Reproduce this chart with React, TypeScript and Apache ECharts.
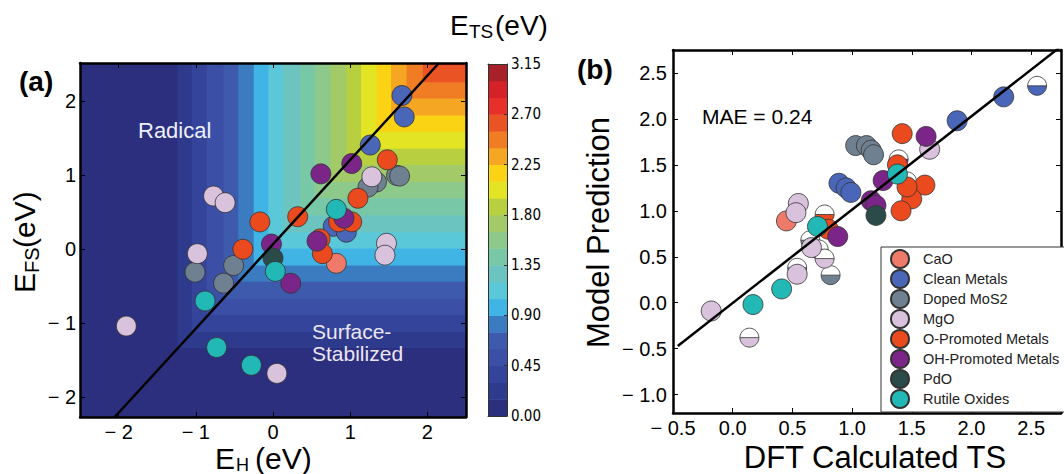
import React, { useEffect, useRef } from "react";
import * as echarts from "echarts";

// ---------- categories ----------
const categories = [
  "CaO",
  "Clean Metals",
  "Doped MoS2",
  "MgO",
  "O-Promoted Metals",
  "OH-Promoted Metals",
  "PdO",
  "Rutile Oxides",
];
const categoryColors = [
  "#f07a6a",
  "#4a66b8",
  "#6f8090",
  "#d9c2dc",
  "#ea4a1e",
  "#7b2588",
  "#2b4a4a",
  "#22b8b6",
];

// ---------- panel (a): E_H vs E_FS ----------
const aCaO = [[0.82, -0.19]];
const aCleanMetals = [[1.67, 2.08], [1.70, 1.79], [1.26, 1.41], [0.78, 0.31], [0.95, 0.23]];
const aDopedMoS2 = [[1.60, 1.00], [1.64, 0.99], [1.34, 0.91], [1.23, 0.84], [-1.01, -0.31], [-0.51, -0.22], [-0.64, -0.46]];
const aMgO = [[-0.77, 0.72], [-0.62, 0.63], [-0.98, -0.06], [-1.90, -1.04], [0.05, -1.68], [1.28, 0.98], [1.47, 0.08], [1.45, -0.08]];
const aOPromoted = [[-0.17, 0.37], [0.32, 0.44], [-0.39, 0.0], [1.48, 1.21], [1.10, 0.69], [0.85, 0.37], [1.02, 0.37], [0.61, 0.14], [0.64, -0.06]];
const aOHPromoted = [[0.62, 1.02], [1.02, 1.16], [0.92, 0.42], [-0.02, 0.07], [0.57, 0.11], [0.23, -0.46]];
const aPdO = [[0.0, -0.12]];
const aRutile = [[0.82, 0.54], [0.03, -0.30], [-0.88, -0.70], [-0.73, -1.33], [-0.28, -1.57]];
const aPoints = [aCaO, aCleanMetals, aDopedMoS2, aMgO, aOPromoted, aOHPromoted, aPdO, aRutile];
const aBoundaryLine = [[-2.05, -2.27], [2.15, 2.52]];

// E_TS contour levels (lower bound of each band) and where each band starts
const tsLevels = [0.0, 0.15, 0.3, 0.45, 0.6, 0.75, 0.9, 1.05, 1.2, 1.35, 1.5, 1.65, 1.8, 1.95, 2.1, 2.25, 2.4, 2.55, 2.7, 2.85, 3.0];
const tsTop = 3.15;
const tsTicks = [0.0, 0.45, 0.9, 1.35, 1.8, 2.25, 2.7, 3.15];
const tsColors = [
  "#2b2f7e", "#2e3a8c", "#33449a", "#3a4fa5", "#3d5aad", "#3b7cc0", "#41b4e6",
  "#5ac8d8", "#6bc4c0", "#78c8a8", "#8ec98c", "#a2ca68", "#b8d040", "#e2e424",
  "#fad414", "#f5a623", "#f07c24", "#ea5424", "#e8302a", "#d42228", "#a82028",
];
// E_H where band k (k>=1) begins, and E_FS where band k begins
const ehBounds = [-1.24, -1.05, -0.86, -0.64, -0.45, -0.25, -0.06, 0.13, 0.35, 0.54, 0.74, 0.95, 1.14, 1.34, 1.53, 1.73, 1.94, 2.13, 2.33];
const efsBounds = [-1.34, -1.12, -0.89, -0.67, -0.44, -0.22, 0.01, 0.23, 0.46, 0.69, 0.91, 1.14, 1.36, 1.59, 1.81, 2.04, 2.26, 2.49, 2.71];

// ---------- panel (b): DFT vs model ----------
const bCaO = [[0.45, 0.89]];
const bCleanMetals = [[2.27, 2.24], [1.88, 1.98], [0.89, 1.30], [0.95, 1.25], [0.99, 1.20]];
const bDopedMoS2 = [[1.03, 1.71], [1.12, 1.71], [1.16, 1.66], [1.18, 1.61]];
const bMgO = [[0.55, 1.08], [0.53, 0.98], [1.65, 1.67], [-0.18, -0.09], [0.66, 0.60], [0.54, 0.31]];
const bOPromoted = [[1.42, 1.84], [1.61, 1.28], [1.50, 1.13], [1.41, 1.00], [1.46, 1.26], [0.80, 0.80], [1.38, 1.50]];
const bOHPromoted = [[1.62, 1.81], [1.26, 1.33], [1.16, 1.11], [1.20, 1.06], [0.88, 0.72]];
const bPdO = [[1.20, 0.95]];
const bRutile = [[1.38, 1.40], [0.71, 0.83], [0.41, 0.15], [0.17, -0.02]];
const bPoints = [bCaO, bCleanMetals, bDopedMoS2, bMgO, bOPromoted, bOHPromoted, bPdO, bRutile];
// half-filled markers
const bHalfCaO: number[][] = [];
const bHalfCleanMetals = [[2.55, 2.36]];
const bHalfDopedMoS2 = [[0.65, 0.68], [0.72, 0.58], [0.82, 0.30]];
const bHalfMgO = [[0.77, 0.48], [0.14, -0.38]];
const bHalfOPromoted = [[0.77, 0.96], [1.46, 1.32]];
const bHalfOHPromoted = [[1.39, 1.56]];
const bHalfPdO: number[][] = [];
const bHalfRutile = [[0.54, 0.38]];
const bHalf = [bHalfCaO, bHalfCleanMetals, bHalfDopedMoS2, bHalfMgO, bHalfOPromoted, bHalfOHPromoted, bHalfPdO, bHalfRutile];
const bParityLine = [[-0.46, -0.47], [2.75, 2.79]];

const FONT = "'Liberation Sans', Arial, Helvetica, sans-serif";
const NARROW = "'Liberation Sans Narrow', 'DejaVu Sans Condensed', 'Liberation Sans', sans-serif";

const A_X = [-2.5, 2.5];
const A_Y = [-2.27, 2.52];
const B_X = [-0.5, 2.75];
const B_Y = [-1.2, 2.75];

const fmtA = (v: number) => {
  const r = Math.round(v);
  if (Math.abs(v - r) > 1e-6) return "";
  return r < 0 ? "\u2212 " + Math.abs(r) : String(r);
};
const fmtB = (v: number) => {
  const h = v * 2;
  if (Math.abs(h - Math.round(h)) > 1e-6) return "";
  return (v < -1e-9 ? "\u2212 " : "") + Math.abs(v).toFixed(1);
};

const frameLine = { onZero: false, lineStyle: { color: "#000", width: 2.5 } };
const inTick = { inside: true, length: 5, lineStyle: { color: "#000", width: 1 } };

function buildOption(): any {
  const xAxis: any[] = [
    { gridIndex: 0, type: "value", position: "bottom", min: A_X[0], max: A_X[1], splitNumber: 5, axisLine: frameLine, axisTick: inTick, splitLine: { show: false }, axisLabel: { formatter: fmtA, fontSize: 20, color: "#000", margin: 5, fontFamily: FONT }, z: 10 },
    { gridIndex: 0, type: "value", position: "top", min: A_X[0], max: A_X[1], splitNumber: 5, axisLine: frameLine, axisTick: inTick, splitLine: { show: false }, axisLabel: { show: false }, z: 10 },
    { gridIndex: 1, type: "value", position: "bottom", min: B_X[0], max: B_X[1], interval: 0.5, axisLine: frameLine, axisTick: inTick, splitLine: { show: false }, axisLabel: { formatter: fmtB, fontSize: 20, color: "#000", margin: 5, fontFamily: FONT }, z: 10 },
    { gridIndex: 1, type: "value", position: "top", min: B_X[0], max: B_X[1], interval: 0.5, axisLine: frameLine, axisTick: inTick, splitLine: { show: false }, axisLabel: { show: false }, z: 10 },
    { gridIndex: 2, type: "value", position: "bottom", min: 0, max: 1, axisLine: { onZero: false, lineStyle: { color: "#333", width: 1 } }, axisTick: { show: false }, axisLabel: { show: false }, splitLine: { show: false }, z: 10 },
    { gridIndex: 2, type: "value", position: "top", min: 0, max: 1, axisLine: { onZero: false, lineStyle: { color: "#333", width: 1 } }, axisTick: { show: false }, axisLabel: { show: false }, splitLine: { show: false }, z: 10 },
  ];
  const yAxis: any[] = [
    { gridIndex: 0, type: "value", position: "left", min: A_Y[0], max: A_Y[1], splitNumber: 5, axisLine: frameLine, axisTick: inTick, splitLine: { show: false }, axisLabel: { formatter: fmtA, fontSize: 20, color: "#000", margin: 4, fontFamily: FONT }, z: 10 },
    { gridIndex: 0, type: "value", position: "right", min: A_Y[0], max: A_Y[1], splitNumber: 5, axisLine: frameLine, axisTick: inTick, splitLine: { show: false }, axisLabel: { show: false }, z: 10 },
    { gridIndex: 1, type: "value", position: "left", min: B_Y[0], max: B_Y[1], splitNumber: 8, axisLine: frameLine, axisTick: inTick, splitLine: { show: false }, axisLabel: { formatter: fmtB, fontSize: 20, color: "#000", margin: 6, fontFamily: FONT }, z: 10 },
    { gridIndex: 1, type: "value", position: "right", min: B_Y[0], max: B_Y[1], splitNumber: 8, axisLine: frameLine, axisTick: inTick, splitLine: { show: false }, axisLabel: { show: false }, z: 10 },
    { gridIndex: 2, type: "value", position: "right", min: 0, max: tsTop, interval: 0.45, axisLine: { onZero: false, lineStyle: { color: "#333", width: 1 } }, axisTick: { inside: true, length: 3, lineStyle: { color: "#333" } }, splitLine: { show: false }, axisLabel: { formatter: (v: number) => (tsTicks.some((t) => Math.abs(t - v) < 1e-6) ? v.toFixed(2) : ""), fontSize: 15, color: "#000", margin: 4, fontFamily: NARROW }, z: 10 },
    { gridIndex: 2, type: "value", position: "left", min: 0, max: tsTop, interval: 0.45, axisLine: { onZero: false, lineStyle: { color: "#333", width: 1 } }, axisTick: { show: false }, splitLine: { show: false }, axisLabel: { show: false }, z: 10 },
  ];

  const heatCells = [[A_X[0], A_Y[0], 0], ...ehBounds.map((eh, i) => [eh, efsBounds[i], i + 1])];
  const series: any[] = [];

  series.push({
    type: "custom",
    name: "heat",
    xAxisIndex: 0,
    yAxisIndex: 0,
    silent: true,
    clip: true,
    z: 1,
    encode: { x: 0, y: 1 },
    data: heatCells,
    renderItem: (params: any, api: any) => {
      const p0 = api.coord([api.value(0), api.value(1)]);
      const p1 = api.coord([A_X[1], A_Y[1]]);
      const k = api.value(2);
      if (p1[0] - p0[0] <= 0 || p0[1] - p1[1] <= 0) return null;
      return {
        type: "rect",
        shape: { x: p0[0], y: p1[1], width: p1[0] - p0[0], height: p0[1] - p1[1] },
        style: { fill: tsColors[k], stroke: null },
      };
    },
  });

  series.push({
    type: "custom",
    name: "colorbar",
    xAxisIndex: 4,
    yAxisIndex: 4,
    silent: true,
    z: 1,
    encode: { x: 0, y: 1 },
    data: tsLevels.map((lv, k) => [0, lv, k]),
    renderItem: (params: any, api: any) => {
      const k = api.value(2);
      const lv = api.value(1);
      const hi = k + 1 < tsLevels.length ? tsLevels[k + 1] : tsTop;
      const p0 = api.coord([0, lv]);
      const p1 = api.coord([1, hi]);
      return {
        type: "rect",
        shape: { x: p0[0], y: p1[1], width: p1[0] - p0[0], height: p0[1] - p1[1] + 0.5 },
        style: { fill: tsColors[k] },
      };
    },
  });

  const markerStyle = (c: string) => ({ color: c, borderColor: "#333", borderWidth: 0.8, opacity: 1 });

  categories.forEach((name, i) => {
    series.push({
      type: "scatter",
      name,
      xAxisIndex: 0,
      yAxisIndex: 0,
      data: aPoints[i],
      symbolSize: 20,
      itemStyle: markerStyle(categoryColors[i]),
      z: 3,
    });
  });

  categories.forEach((name, i) => {
    series.push({
      type: "scatter",
      name,
      xAxisIndex: 2,
      yAxisIndex: 2,
      data: bPoints[i],
      symbolSize: 20,
      itemStyle: markerStyle(categoryColors[i]),
      z: 3,
    });
  });

  categories.forEach((name, i) => {
    if (!bHalf[i].length) return;
    const col = categoryColors[i];
    series.push({
      type: "custom",
      name: name + " (half)",
      xAxisIndex: 2,
      yAxisIndex: 2,
      z: 3,
      encode: { x: 0, y: 1 },
      data: bHalf[i],
      renderItem: (params: any, api: any) => {
        const p = api.coord([api.value(0), api.value(1)]);
        const r = 9.5;
        return {
          type: "group",
          children: [
            { type: "circle", shape: { cx: p[0], cy: p[1], r }, style: { fill: "#fff" } },
            { type: "sector", shape: { cx: p[0], cy: p[1], r0: 0, r, startAngle: 0, endAngle: Math.PI, clockwise: true }, style: { fill: col } },
            { type: "line", shape: { x1: p[0] - r, y1: p[1], x2: p[0] + r, y2: p[1] }, style: { stroke: "#333", lineWidth: 0.8 } },
            { type: "circle", shape: { cx: p[0], cy: p[1], r }, style: { fill: "none", stroke: "#333", lineWidth: 0.8 } },
          ],
        };
      },
    });
  });

  series.push({
    type: "line",
    name: "boundary",
    xAxisIndex: 0,
    yAxisIndex: 0,
    data: aBoundaryLine,
    symbol: "none",
    silent: true,
    lineStyle: { color: "#000", width: 2.5 },
    z: 5,
  });
  series.push({
    type: "line",
    name: "parity",
    xAxisIndex: 2,
    yAxisIndex: 2,
    data: bParityLine,
    symbol: "none",
    silent: true,
    lineStyle: { color: "#000", width: 2.5 },
    z: 5,
  });

  const txt = (text: string, x: number, y: number, size: number, extra: any = {}) => ({
    type: "text",
    x,
    y,
    z: 100,
    silent: true,
    style: {
      text,
      fill: extra.fill || "#000",
      fontSize: size,
      fontFamily: FONT,
      fontWeight: extra.bold ? "bold" : "normal",
      align: extra.align || "left",
      verticalAlign: "middle",
    },
  });

  const graphic: any[] = [
    txt("(a)", 19, 81.5, 28, { bold: true }),
    txt("(b)", 577, 69, 28, { bold: true }),
    txt("Radical", 138, 130, 22, { fill: "#eef0fa" }),
    txt("Surface-", 312, 331.5, 21, { fill: "#ece6f4" }),
    txt("Stabilized", 312, 353.5, 21, { fill: "#ece6f4" }),
    txt("MAE = 0.24", 702, 116, 21),
    txt("DFT Calculated TS", 875, 457.5, 31, { align: "center" }),
    // E_TS(eV) title
    txt("E", 450, 25.5, 28),
    txt("TS", 469, 31.5, 19),
    txt("(eV)", 495, 25.5, 28),
    // E_H(eV)
    txt("E", 215, 458, 30),
    txt("H", 236, 464.5, 18),
    txt("(eV)", 255, 458, 30),
    // E_FS(eV) rotated
    {
      type: "group",
      x: 24,
      y: 293,
      rotation: Math.PI / 2,
      children: [txt("E", 0, 0, 30), txt("FS", 20, 8, 20), txt("(eV)", 45, 0, 30)],
    },
    {
      type: "group",
      x: 598,
      y: 232.5,
      rotation: Math.PI / 2,
      children: [txt("Model Prediction", 0, 0, 31, { align: "center" })],
    },
  ];

  return {
    animation: false,
    backgroundColor: "#fff",
    textStyle: { fontFamily: FONT },
    grid: [
      { left: 80, top: 63, width: 386, height: 354 },
      { left: 673, top: 50, width: 401, height: 363 },
      { left: 488, top: 64, width: 19, height: 352 },
    ],
    xAxis,
    yAxis,
    legend: {
      data: categories,
      orient: "vertical",
      left: 881,
      top: 247,
      padding: [2, 80, 3, 9],
      itemGap: 0,
      itemWidth: 36,
      itemHeight: 18,
      icon: "circle",
      borderColor: "#333",
      borderWidth: 1,
      backgroundColor: "#fff",
      textStyle: { fontSize: 14.5, color: "#222", fontFamily: FONT },
      selectedMode: false,
      z: 20,
    },
    graphic,
    series,
  };
}

export default function App() {
  const ref = useRef<HTMLDivElement>(null);
  useEffect(() => {
    if (!ref.current) return;
    const chart = echarts.init(ref.current, null, { renderer: "svg" });
    chart.setOption(buildOption());
    return () => chart.dispose();
  }, []);
  return (
    <div
      ref={ref}
      style={{ position: "fixed", left: 0, top: 0, width: 1064, height: 474, background: "#fff" }}
    />
  );
}
